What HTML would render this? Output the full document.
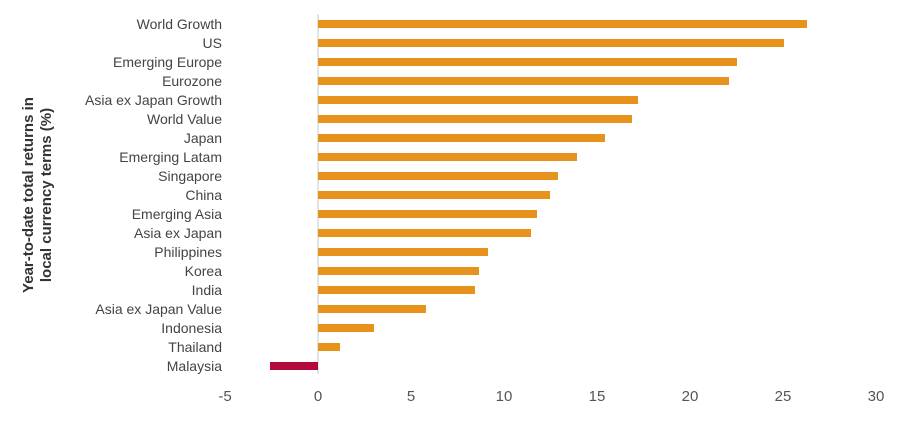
<!DOCTYPE html><html><head><style>body{margin:0;background:#fff}</style></head><body>
<svg width="904" height="417" xmlns="http://www.w3.org/2000/svg" font-family="Liberation Sans, sans-serif">
<line x1="318" y1="14" x2="318" y2="374" stroke="#c8c8c8" stroke-width="1"/>
<g fill="#e8921e">
<rect x="318" y="20" width="489" height="8"/>
<rect x="318" y="39" width="466" height="8"/>
<rect x="318" y="58" width="419" height="8"/>
<rect x="318" y="77" width="411" height="8"/>
<rect x="318" y="96" width="320" height="8"/>
<rect x="318" y="115" width="314" height="8"/>
<rect x="318" y="134" width="287" height="8"/>
<rect x="318" y="153" width="259" height="8"/>
<rect x="318" y="172" width="240" height="8"/>
<rect x="318" y="191" width="232" height="8"/>
<rect x="318" y="210" width="219" height="8"/>
<rect x="318" y="229" width="213" height="8"/>
<rect x="318" y="248" width="170" height="8"/>
<rect x="318" y="267" width="161" height="8"/>
<rect x="318" y="286" width="157" height="8"/>
<rect x="318" y="305" width="108" height="8"/>
<rect x="318" y="324" width="56" height="8"/>
<rect x="318" y="343" width="22" height="8"/>
</g>
<rect x="270" y="362" width="48" height="8" fill="#b5093b"/>
<g fill="#444" font-size="14" text-anchor="end">
<text x="222" y="29">World Growth</text>
<text x="222" y="48">US</text>
<text x="222" y="67">Emerging Europe</text>
<text x="222" y="86">Eurozone</text>
<text x="222" y="105">Asia ex Japan Growth</text>
<text x="222" y="124">World Value</text>
<text x="222" y="143">Japan</text>
<text x="222" y="162">Emerging Latam</text>
<text x="222" y="181">Singapore</text>
<text x="222" y="200">China</text>
<text x="222" y="219">Emerging Asia</text>
<text x="222" y="238">Asia ex Japan</text>
<text x="222" y="257">Philippines</text>
<text x="222" y="276">Korea</text>
<text x="222" y="295">India</text>
<text x="222" y="314">Asia ex Japan Value</text>
<text x="222" y="333">Indonesia</text>
<text x="222" y="352">Thailand</text>
<text x="222" y="371">Malaysia</text>
</g>
<g fill="#555" font-size="15" text-anchor="middle">
<text x="225" y="401">-5</text><text x="318" y="401">0</text><text x="411" y="401">5</text>
<text x="504" y="401">10</text><text x="597" y="401">15</text><text x="690" y="401">20</text>
<text x="783" y="401">25</text><text x="876" y="401">30</text>
</g>
<g fill="#333" font-size="15" font-weight="bold" text-anchor="middle">
<text transform="translate(33,195) rotate(-90)">Year-to-date  total returns in</text>
<text transform="translate(51,195) rotate(-90)">local currency terms (%)</text>
</g>
</svg></body></html>
